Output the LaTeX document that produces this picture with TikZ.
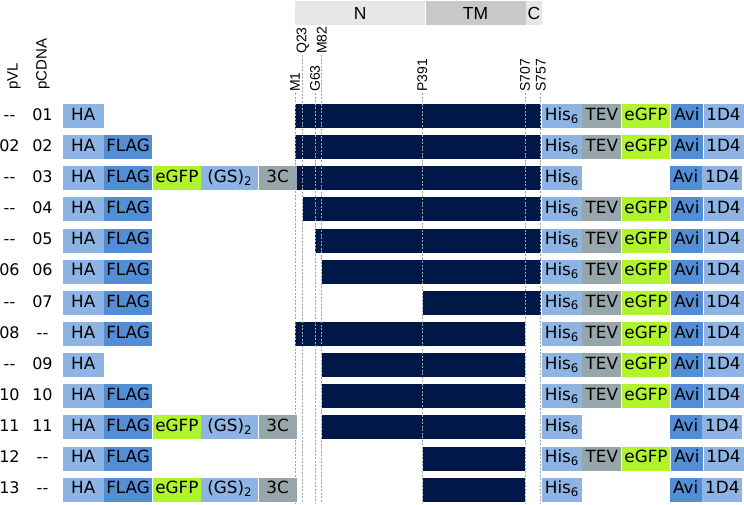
\documentclass[tikz,border=0pt]{standalone}
\usepackage{fontspec}
\setmainfont{DejaVu Sans}
\newfontfamily\arialf{Liberation Sans}
\definecolor{cnavy}{RGB}{0,24,72}
\definecolor{clight}{RGB}{141,180,226}
\definecolor{cmid}{RGB}{83,141,213}
\definecolor{cgreen}{RGB}{176,244,46}
\definecolor{cgray}{RGB}{150,166,170}
\definecolor{hlight}{RGB}{230,230,230}
\definecolor{hdark}{RGB}{200,200,200}
\definecolor{cline}{RGB}{165,165,165}
\newcommand{\mkleft}[3]{%
 \node[tag,fill=clight,minimum width=40.6pt] (ha#1) at (62.7,#2) {HA};
 \ifnum#3>1 \node[tag,fill=cmid,minimum width=48.4pt] (flag#1) at (ha#1.east) {FLAG};\fi
 \ifnum#3>2 \node[tag,fill=cgreen,minimum width=48.3pt] (lgfp#1) at (flag#1.east) {eGFP};
   \node[tag,fill=clight,minimum width=56.7pt] (gs#1) at (lgfp#1.east) {(GS)\textsubscript{2}};
   \node[tag,fill=cgray,minimum width=38.3pt] (tc#1) at (gs#1.east) {3C};\fi}
\newcommand{\mkright}[3]{%
 \node[tag,fill=clight,minimum width=40pt] (his#1) at (541.7,#2) {His\textsubscript{6}};
 \ifnum#3=1 \node[tag,fill=cgray,minimum width=39pt] (tev#1) at (his#1.east) {TEV};
   \node[tag,fill=cgreen,minimum width=48.6pt] (rgfp#1) at (tev#1.east) {eGFP};
   \node[tag,fill=cmid,minimum width=32.4pt] (avi#1) at (rgfp#1.east) {Avi};
 \else \node[tag,fill=cmid,minimum width=32.4pt] (avi#1) at (669.3,#2) {Avi};\fi
 \node[tag,fill=clight,minimum width=40pt] (dfour#1) at (avi#1.east) {1D4};}
\newcommand{\mkbar}[4]{\node[barbox,minimum width={#4pt-#3pt}] (bar#1) at (#3,#2) {};}
\newcommand{\mklbl}[4]{%
 \node[rowlbl] (pv#1) at (9.5,#2) {#3};
 \node[rowlbl] (pc#1) at (42.5,#2) {#4};}
\begin{document}
\begin{tikzpicture}[x=1pt,y=-1pt,
 tag/.style={inner sep=0pt,minimum height=24pt,anchor=west,text height=12pt,text depth=3.5pt,font=\fontsize{16.8}{18}\selectfont},
 barbox/.style={inner sep=0pt,minimum height=24pt,anchor=west,fill=cnavy},
 rowlbl/.style={inner sep=0pt,text height=12pt,text depth=3.5pt,font=\fontsize{16}{18}\selectfont},
 hdr/.style={inner sep=0pt,minimum height=24pt,anchor=west,font=\arialf\fontsize{17.5}{18}\selectfont},
 res/.style={rotate=90,anchor=west,inner sep=1pt,font=\arialf\fontsize{14}{14}\selectfont},
 collbl/.style={rotate=90,anchor=west,inner sep=0pt,font=\arialf\fontsize{15}{16}\selectfont},
 resline/.style={draw=cline,line width=1pt,dash pattern=on 2pt off 1.5pt}]
\useasboundingbox (0,0) rectangle (744,504);
% header
\node[hdr,fill=hlight,minimum width=130pt] (hN) at (295,13) {N};
\node[hdr,fill=hdark,minimum width=100pt] (hTM) at (hN.east) {TM};
\node[hdr,fill=hlight,minimum width=16pt] (hC) at (hTM.east) {C};
% column labels
\node[collbl] (hpvl) at (14,90) {pVL};
\node[collbl] (hpcdna) at (43,90) {pCDNA};
% bars
\mkbar{1}{116.00}{295}{540.7}
\mkbar{2}{147.14}{295}{540.7}
\mkbar{3}{178.28}{295}{540.7}
\mkbar{4}{209.42}{302.7}{540.7}
\mkbar{5}{240.56}{315}{540.7}
\mkbar{6}{271.70}{321.7}{540.7}
\mkbar{7}{302.84}{422.3}{540.7}
\mkbar{8}{333.98}{295}{525}
\mkbar{9}{365.12}{321.7}{525}
\mkbar{10}{396.26}{321.7}{525}
\mkbar{11}{427.40}{321.7}{525}
\mkbar{12}{458.54}{422.3}{525}
\mkbar{13}{489.68}{422.3}{525}
% residue labels and lines
\node[res] (rM1) at (295,93) {M1};
\node[res] (rQ23) at (302.7,55) {Q23};
\node[res] (rG63) at (315,93) {G63};
\node[res] (rM82) at (321.7,55) {M82};
\node[res] (rP391) at (422.3,93) {P391};
\node[res] (rS707) at (525,93) {S707};
\node[res] (rS757) at (540.7,93) {S757};
\coordinate (eM1) at (295,503);
\coordinate (eQ23) at (302.7,503);
\coordinate (eG63) at (315,503);
\coordinate (eM82) at (321.7,503);
\coordinate (eP391) at (422.3,503);
\coordinate (eS707) at (525,503);
\coordinate (eS757) at (540.7,503);
\foreach \r in {M1,Q23,G63,M82,P391,S707,S757}{\draw[resline] (r\r.west) -- (e\r);}
% tags
\mkleft{1}{116.00}{1}\mkright{1}{116.00}{1}
\mkleft{2}{147.14}{2}\mkright{2}{147.14}{1}
\mkleft{3}{178.28}{3}\mkright{3}{178.28}{0}
\mkleft{4}{209.42}{2}\mkright{4}{209.42}{1}
\mkleft{5}{240.56}{2}\mkright{5}{240.56}{1}
\mkleft{6}{271.70}{2}\mkright{6}{271.70}{1}
\mkleft{7}{302.84}{2}\mkright{7}{302.84}{1}
\mkleft{8}{333.98}{2}\mkright{8}{333.98}{1}
\mkleft{9}{365.12}{1}\mkright{9}{365.12}{1}
\mkleft{10}{396.26}{2}\mkright{10}{396.26}{1}
\mkleft{11}{427.40}{3}\mkright{11}{427.40}{0}
\mkleft{12}{458.54}{2}\mkright{12}{458.54}{1}
\mkleft{13}{489.68}{3}\mkright{13}{489.68}{0}
% row labels
\mklbl{1}{116.00}{-{}-}{01}
\mklbl{2}{147.14}{02}{02}
\mklbl{3}{178.28}{-{}-}{03}
\mklbl{4}{209.42}{-{}-}{04}
\mklbl{5}{240.56}{-{}-}{05}
\mklbl{6}{271.70}{06}{06}
\mklbl{7}{302.84}{-{}-}{07}
\mklbl{8}{333.98}{08}{-{}-}
\mklbl{9}{365.12}{-{}-}{09}
\mklbl{10}{396.26}{10}{10}
\mklbl{11}{427.40}{11}{11}
\mklbl{12}{458.54}{12}{-{}-}
\mklbl{13}{489.68}{13}{-{}-}
\end{tikzpicture}
\end{document}
